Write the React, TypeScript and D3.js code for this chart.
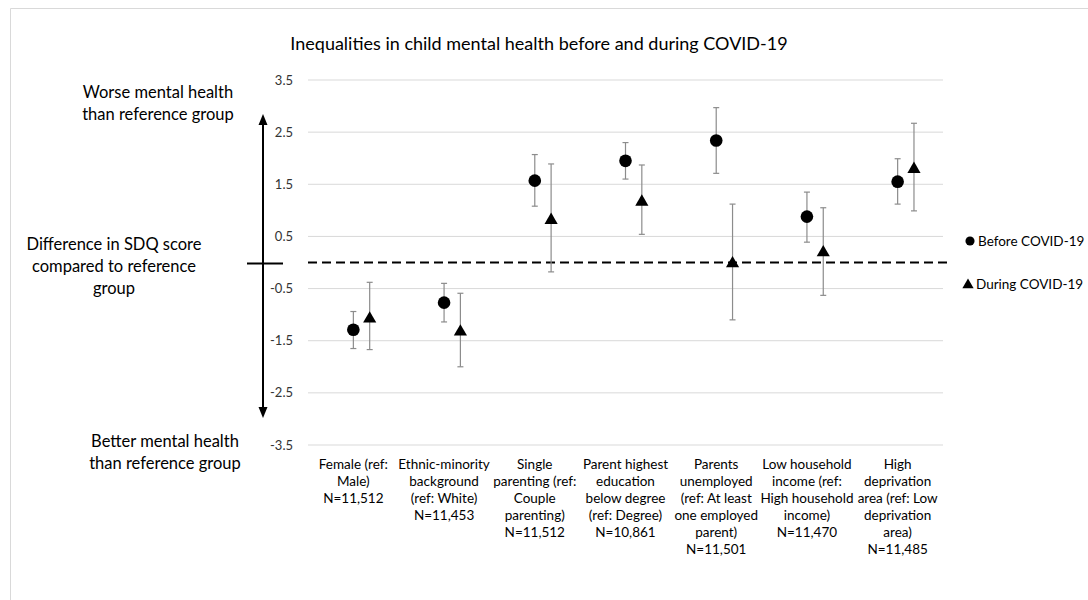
import React from "react";
import * as d3 from "d3";

const categories: string[][] = [
  ["Female (ref:", "Male)", "N=11,512"],
  ["Ethnic-minority", "background", "(ref: White)", "N=11,453"],
  ["Single", "parenting (ref:", "Couple", "parenting)", "N=11,512"],
  ["Parent highest", "education", "below degree", "(ref: Degree)", "N=10,861"],
  ["Parents", "unemployed", "(ref: At least", "one employed", "parent)", "N=11,501"],
  ["Low household", "income (ref:", "High household", "income)", "N=11,470"],
  ["High", "deprivation", "area (ref: Low", "deprivation", "area)", "N=11,485"],
];

const beforeValues = [-1.29, -0.77, 1.57, 1.95, 2.34, 0.88, 1.55];
const beforeLow = [-1.65, -1.14, 1.08, 1.6, 1.71, 0.39, 1.12];
const beforeHigh = [-0.94, -0.4, 2.07, 2.3, 2.97, 1.35, 1.99];

const duringValues = [-1.06, -1.31, 0.83, 1.18, 0.0, 0.21, 1.81];
const duringLow = [-1.67, -2.0, -0.18, 0.54, -1.1, -0.63, 0.99];
const duringHigh = [-0.38, -0.59, 1.89, 1.87, 1.12, 1.05, 2.67];

const yTicks = [3.5, 2.5, 1.5, 0.5, -0.5, -1.5, -2.5, -3.5];
const seriesNames = ["Before COVID-19", "During COVID-19"];
const title = "Inequalities in child mental health before and during COVID-19";

const FONT = "Lato, 'Open Sans', sans-serif";

export default function App() {
  const y = d3.scaleLinear().domain([-3.5, 3.5]).range([445, 80]);
  const x = d3.scaleLinear().domain([0.5, 7.5]).range([308, 943]);
  const offset = 0.18;
  const tri = d3.symbol().type(d3.symbolTriangle).size(75);
  const circ = d3.symbol().type(d3.symbolCircle).size(125);
  const errColor = "#8c8c8c";
  const cap = 3;

  const errBar = (cx: number, lo: number, hi: number, key: string) => (
    <g key={key} stroke={errColor} strokeWidth={1.2}>
      <line x1={cx} x2={cx} y1={y(lo)} y2={y(hi)} />
      <line x1={cx - cap} x2={cx + cap} y1={y(lo)} y2={y(lo)} />
      <line x1={cx - cap} x2={cx + cap} y1={y(hi)} y2={y(hi)} />
    </g>
  );

  const arrowTop = y(2.85);
  const arrowBot = y(-2.98);
  const ax = 263;

  return (
    <svg
      width={1088}
      height={600}
      style={{ position: "absolute", left: 0, top: 0, background: "#fff" }}
      fontFamily={FONT}
    >
      <rect x={0} y={0} width={1088} height={600} fill="#fff" />
      {/* frame */}
      <line x1={10.5} x2={1088} y1={8.5} y2={8.5} stroke="#d9d9d9" strokeWidth={1} />
      <line x1={10.5} x2={10.5} y1={8.5} y2={600} stroke="#d9d9d9" strokeWidth={1} />

      <text x={539} y={50} textAnchor="middle" fontSize={18} fill="#000">
        {title}
      </text>

      {/* gridlines */}
      {yTicks.map((t) => (
        <line key={"g" + t} x1={x(0.5)} x2={x(7.5)} y1={y(t)} y2={y(t)} stroke="#d9d9d9" strokeWidth={1} />
      ))}
      {yTicks.map((t) => (
        <text key={"t" + t} x={293} y={y(t) + 4.5} textAnchor="end" fontSize={13} fill="#333">
          {t.toFixed(1)}
        </text>
      ))}

      {/* dashed zero line */}
      <line
        x1={x(0.5)}
        x2={947}
        y1={y(0)}
        y2={y(0)}
        stroke="#000"
        strokeWidth={2}
        strokeDasharray="9,5"
      />

      {/* left arrow */}
      <line x1={ax} x2={ax} y1={arrowTop + 8} y2={arrowBot - 8} stroke="#000" strokeWidth={2} />
      <path d={`M${ax},${arrowTop} L${ax - 4.5},${arrowTop + 11} L${ax + 4.5},${arrowTop + 11} Z`} fill="#000" />
      <path d={`M${ax},${arrowBot} L${ax - 4.5},${arrowBot - 11} L${ax + 4.5},${arrowBot - 11} Z`} fill="#000" />
      <line x1={247} x2={283} y1={y(0) + 1} y2={y(0) + 1} stroke="#000" strokeWidth={2} />

      {/* left annotations */}
      <g fontSize={16.5} fill="#000" textAnchor="middle">
        <text x={158} y={98}>Worse mental health</text>
        <text x={158} y={120}>than reference group</text>
        <text x={114} y={250}>Difference in SDQ score</text>
        <text x={114} y={272}>compared to reference</text>
        <text x={114} y={294}>group</text>
        <text x={165} y={447}>Better mental health</text>
        <text x={165} y={469}>than reference group</text>
      </g>

      {/* error bars */}
      {beforeValues.map((_, i) => errBar(x(i + 1), beforeLow[i], beforeHigh[i], "eb" + i))}
      {duringValues.map((_, i) => errBar(x(i + 1 + offset), duringLow[i], duringHigh[i], "ed" + i))}

      {/* markers */}
      {beforeValues.map((v, i) => (
        <path key={"pb" + i} d={circ() as string} transform={`translate(${x(i + 1)},${y(v)})`} fill="#000" />
      ))}
      {duringValues.map((v, i) => (
        <path key={"pd" + i} d={tri() as string} transform={`translate(${x(i + 1 + offset)},${y(v) + 1})`} fill="#000" />
      ))}

      {/* x labels */}
      {categories.map((lines, i) => (
        <text key={"c" + i} x={x(i + 1)} textAnchor="middle" fontSize={13.5} fill="#000">
          {lines.map((l, j) => (
            <tspan key={j} x={x(i + 1)} y={469 + j * 17}>
              {l}
            </tspan>
          ))}
        </text>
      ))}

      {/* legend */}
      <path d={d3.symbol().type(d3.symbolCircle).size(65)() as string} transform="translate(970,241)" fill="#000" />
      <text x={978} y={246} fontSize={13.5} fill="#000">{seriesNames[0]}</text>
      <path d={d3.symbol().type(d3.symbolTriangle).size(55)() as string} transform="translate(968,285)" fill="#000" />
      <text x={976} y={289} fontSize={13.5} fill="#000">{seriesNames[1]}</text>
    </svg>
  );
}
